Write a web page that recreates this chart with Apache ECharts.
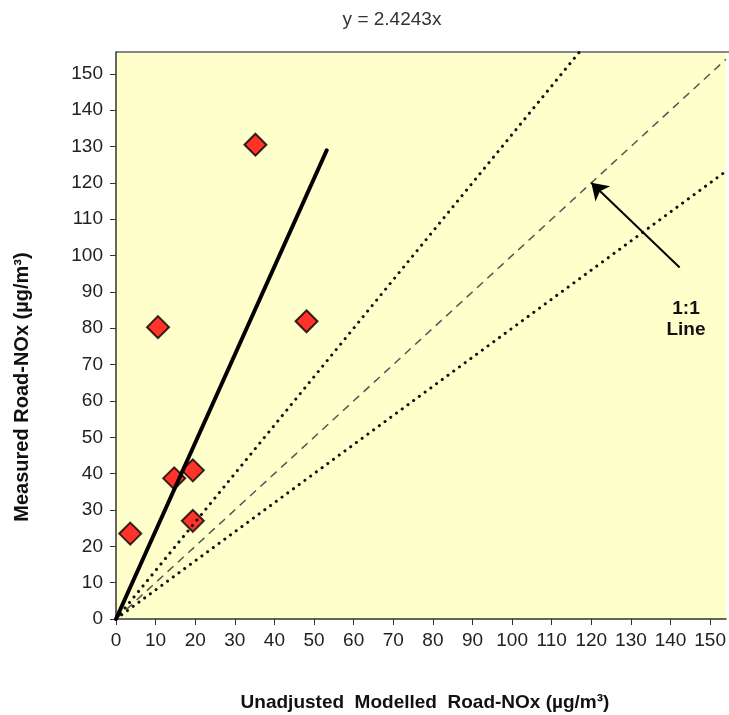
<!DOCTYPE html>
<html>
<head>
<meta charset="utf-8">
<script src="https://cdn.jsdelivr.net/npm/echarts@6/dist/echarts.min.js"></script>
<style>
  html, body { margin: 0; padding: 0; background: #fff; }
  #chart { width: 729px; height: 715px; }
</style>
</head>
<body>
<div id="chart"></div>
<script>
// measured vs modelled points
var modelled = [35.2, 3.6, 14.7, 19.4, 19.4, 10.6, 48.1];
var measured = [130.5, 23.5, 38.7, 40.9, 27.0, 80.3, 81.9];
var slope = 2.4243;
var trendEnd = 53.2;
var tickValues = [0, 10, 20, 30, 40, 50, 60, 70, 80, 90, 100, 110, 120, 130, 140, 150];
var xMax = 154;
var yMax = 156;

var points = modelled.map(function (x, i) { return [x, measured[i]]; });
var font = 'Liberation Sans, Arial, sans-serif';

var chart = echarts.init(document.getElementById('chart'));
chart.setOption({
  animation: false,
  title: {
    text: 'y = 2.4243x',
    left: 387, top: 5, textAlign: 'center',
    textStyle: { fontFamily: font, fontSize: 19, fontWeight: 'normal', color: '#333' }
  },
  grid: { left: 116, top: 52, right: 1, bottom: 96, show: true, backgroundColor: '#FFFFCC', borderWidth: 0 },
  xAxis: {
    type: 'value', min: 0, max: xMax, interval: 10,
    axisLine: { lineStyle: { color: '#333', width: 1.5 } },
    axisTick: { show: true, length: 6, customValues: tickValues, lineStyle: { color: '#333' } },
    axisLabel: { customValues: tickValues, fontFamily: font, fontSize: 19, color: '#222', margin: 12 },
    splitLine: { show: false }
  },
  yAxis: {
    type: 'value', min: 0, max: yMax, interval: 10,
    axisLine: { show: true, lineStyle: { color: '#333', width: 1.5 } },
    axisTick: { show: true, length: 6, customValues: tickValues, lineStyle: { color: '#333' } },
    axisLabel: { customValues: tickValues, fontFamily: font, fontSize: 19, color: '#222', margin: 13 },
    splitLine: { show: false }
  },
  graphic: [
    { type: 'line', shape: { x1: 116, y1: 52, x2: 729, y2: 52 }, style: { stroke: '#888', lineWidth: 2 } },
    {
      type: 'text', x: 22, y: 387, rotation: Math.PI / 2,
      style: { text: 'Measured Road-NOx (µg/m³)', fontFamily: font, fontSize: 20, fontWeight: 'bold', fill: '#111', align: 'center', verticalAlign: 'middle' }
    },
    {
      type: 'text', x: 425, y: 703,
      style: { text: 'Unadjusted  Modelled  Road-NOx (µg/m³)', fontFamily: font, fontSize: 19, fontWeight: 'bold', fill: '#111', align: 'center', verticalAlign: 'middle' }
    }
  ],
  series: [
    {
      type: 'line', data: [[0, 0], [xMax, xMax]], symbol: 'none',
      lineStyle: { color: '#555', width: 1.5, type: [8, 6] }
    },
    {
      type: 'line', data: [[0, 0], [xMax, xMax / 0.75]], symbol: 'none',
      lineStyle: { color: '#111', width: 3, type: [0.1, 7], cap: 'round' }
    },
    {
      type: 'line', data: [[0, 0], [xMax, xMax * 0.8]], symbol: 'none',
      lineStyle: { color: '#111', width: 3, type: [0.1, 7], cap: 'round' }
    },
    {
      type: 'line', data: [[0, 0], [trendEnd, trendEnd * slope]], symbol: 'none',
      lineStyle: { color: '#000', width: 4, cap: 'round' },
      markLine: {
        silent: true, symbol: ['none', 'arrow'], symbolSize: 16,
        lineStyle: { color: '#000', width: 2, type: 'solid' },
        label: { show: false },
        data: [[{ coord: [142.3, 96.7] }, { coord: [120, 120] }]]
      },
      markPoint: {
        silent: true, symbol: 'circle', symbolSize: 0,
        label: {
          show: true, formatter: '1:1\nLine', fontFamily: font, fontSize: 19, fontWeight: 'bold',
          color: '#111', lineHeight: 21, align: 'center'
        },
        data: [{ coord: [143.9, 82.5] }]
      }
    },
    {
      type: 'scatter', data: points, symbol: 'diamond', symbolSize: 22,
      itemStyle: { color: '#FF0000', borderColor: '#000', borderWidth: 2 }
    }
  ]
});
</script>
</body>
</html>
